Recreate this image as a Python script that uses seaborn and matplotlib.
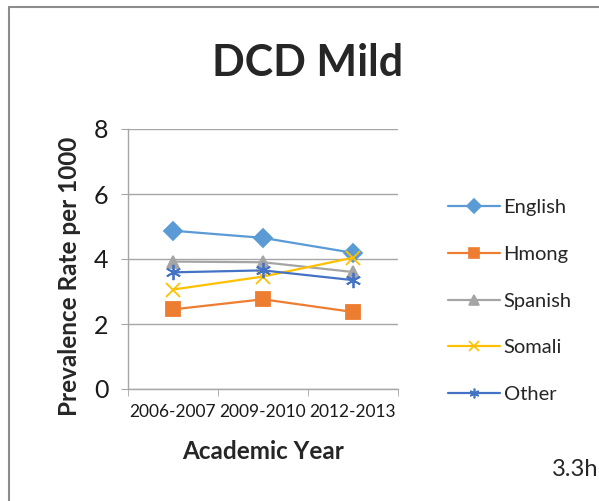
import matplotlib

matplotlib.use("Agg")
import matplotlib.pyplot as plt
import pandas as pd
import seaborn as sns
from matplotlib.lines import Line2D

years = ["2006-2007", "2009-2010", "2012-2013"]
english = [4.87, 4.65, 4.19]
hmong = [2.45, 2.76, 2.37]
spanish = [3.92, 3.90, 3.60]
somali = [3.06, 3.46, 4.04]
other = [3.59, 3.65, 3.35]

languages = ["English", "Hmong", "Spanish", "Somali", "Other"]
colors = ["#5B9BD5", "#ED7D31", "#A5A5A5", "#FFC000", "#4472C4"]
markers = ["D", "s", "^", "x", (6, 2, 0)]
msizes = [9, 10, 9, 10, 11]

sns.set_style("white")
plt.rcParams["font.family"] = ["Lato", "DejaVu Sans"]

fig = plt.figure(figsize=(5.99, 5.01), dpi=100)
ax = fig.add_axes([128 / 599, 1 - 389 / 501, 270 / 599, 260 / 501])

for lang, vals, c, m, ms in zip(languages, [english, hmong, spanish, somali, other],
                                colors, markers, msizes):
    df = pd.DataFrame({"year": years, "rate": vals})
    sns.lineplot(data=df, x="year", y="rate", color=c, marker=m, markersize=ms,
                 markeredgecolor=c, markerfacecolor=c, markeredgewidth=1.3,
                 linewidth=1.6, sort=False, ax=ax, label=lang, legend=False)

ax.set_xlim(-0.5, 2.5)
ax.set_ylim(0, 8)
ax.set_yticks([0, 2, 4, 6, 8])
ax.yaxis.grid(True, color="#A6A6A6", linewidth=1)
ax.set_axisbelow(True)
ax.set_xticks([0, 1, 2])
ax.set_xticklabels(years)
ax.set_xticks([-0.5, 0.5, 1.5, 2.5], minor=True)
ax.tick_params(axis="x", which="major", length=0, labelsize=12.5, labelcolor="#1a1a1a", pad=11)
ax.tick_params(axis="x", which="minor", length=5, color="#A6A6A6", bottom=True)
ax.tick_params(axis="y", length=5, color="#A6A6A6", left=True, labelsize=18,
               labelcolor="#1a1a1a", pad=9)
for side in ["top", "right"]:
    ax.spines[side].set_visible(False)
for side in ["left", "bottom"]:
    ax.spines[side].set_color("#A6A6A6")
    ax.spines[side].set_linewidth(1)

ax.set_xlabel("Academic Year", fontsize=17.5, fontweight="bold", labelpad=14)
ax.set_ylabel("Prevalence Rate per 1000", fontsize=17.5, fontweight="bold")
ax.yaxis.set_label_coords(-0.174, 0.433)
fig.text(0.513, 1 - 63 / 501, "DCD Mild", ha="center", va="center",
         fontsize=31, fontweight="bold")

handles = [
    Line2D([], [], color=c, marker=m, markersize=7, markeredgecolor=c,
           markerfacecolor=c, linewidth=1.6, markeredgewidth=1.2)
    for c, m in zip(colors, markers)
]
fig.legend(handles, languages, loc="upper left", bbox_to_anchor=(430 / 599, 1 - 181 / 501),
           frameon=False, fontsize=14.5, handlelength=2.6, labelspacing=1.47,
           handletextpad=0.15)

fig.text(1 - 1 / 599, 1 - 470 / 501, "3.3h", ha="right", va="center", fontsize=17)

fig.add_artist(Line2D([8.5 / 599, 8.5 / 599], [0, 1 - 6.5 / 501], color="#8C8C8C", linewidth=1.5))
fig.add_artist(Line2D([8.5 / 599, 1], [1 - 6.5 / 501, 1 - 6.5 / 501], color="#8C8C8C", linewidth=1.5))

fig.savefig("out.png", dpi=100)
